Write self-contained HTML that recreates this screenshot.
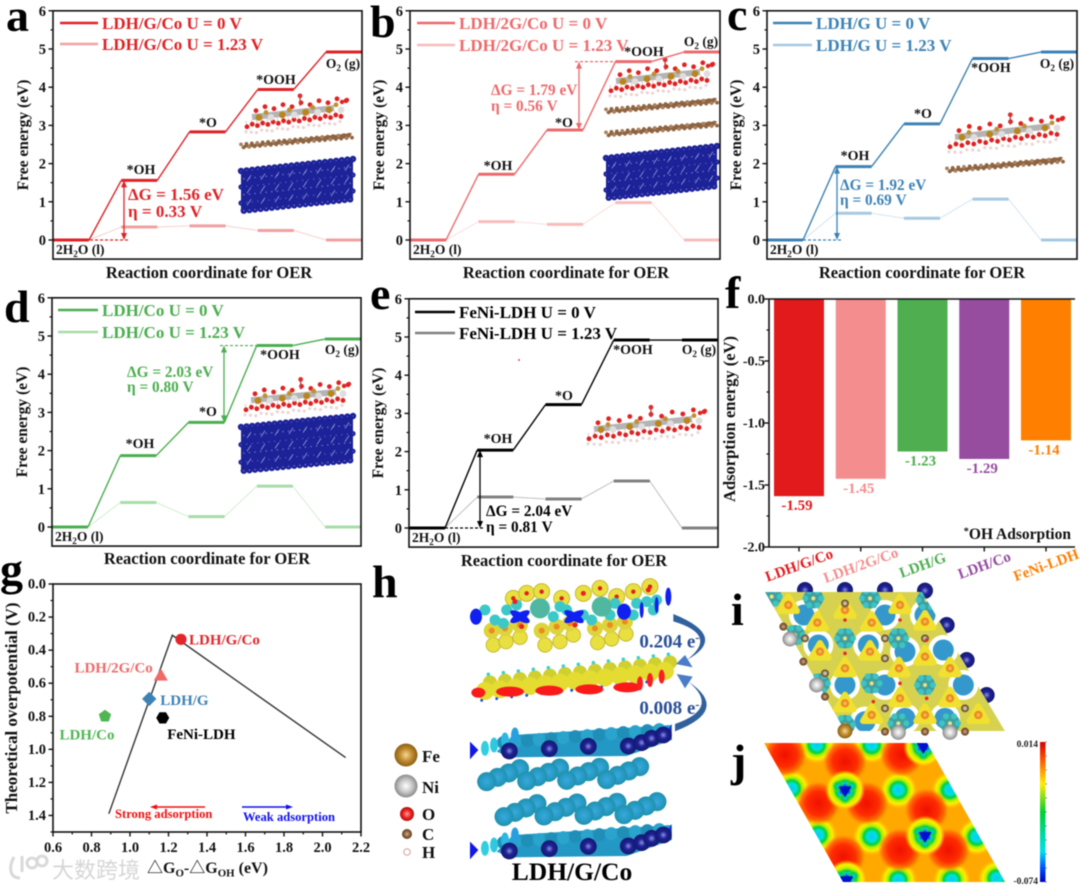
<!DOCTYPE html>
<html lang="en">
<head>
<meta charset="utf-8">
<title>OER free energy figure</title>
<style>
html,body{margin:0;padding:0;background:#fff;}
#figure{display:block;width:1080px;height:888px;font-family:"Liberation Serif","Noto Serif CJK SC",serif;font-weight:bold;filter:blur(.4px);}
</style>
</head>
<body>
<svg id="figure" xmlns="http://www.w3.org/2000/svg" width="1080" height="888" viewBox="0 0 1080 888">
<defs>
  <radialGradient id="feGrad" cx="50%" cy="50%" r="50%"><stop offset="0" stop-color="#f5d79a"/><stop offset=".55" stop-color="#c08a2c"/><stop offset="1" stop-color="#8a6018"/></radialGradient>
  <radialGradient id="niGrad" cx="50%" cy="50%" r="50%"><stop offset="0" stop-color="#ffffff"/><stop offset=".55" stop-color="#c8c8c8"/><stop offset="1" stop-color="#8a8a8a"/></radialGradient>
  <radialGradient id="oGrad" cx="50%" cy="50%" r="50%"><stop offset="0" stop-color="#ff9a9a"/><stop offset=".6" stop-color="#e82020"/><stop offset="1" stop-color="#b01010"/></radialGradient>
  <radialGradient id="cGrad" cx="50%" cy="50%" r="50%"><stop offset="0" stop-color="#d0b090"/><stop offset=".6" stop-color="#8a5f3c"/><stop offset="1" stop-color="#604020"/></radialGradient>
  <radialGradient id="coGrad" cx="50%" cy="50%" r="50%"><stop offset="0" stop-color="#8f8fe0"/><stop offset=".45" stop-color="#1d2296"/><stop offset="1" stop-color="#14186e"/></radialGradient>
  <radialGradient id="tealGrad" cx="50%" cy="50%" r="50%"><stop offset="0" stop-color="#3aa8dc"/><stop offset=".65" stop-color="#269ac4"/><stop offset="1" stop-color="#2090a8"/></radialGradient>
  <radialGradient id="redBlob" cx="50%" cy="50%" r="50%"><stop offset="0" stop-color="#f01000"/><stop offset=".55" stop-color="#ff2c00"/><stop offset=".8" stop-color="#ff5a00" stop-opacity=".8"/><stop offset="1" stop-color="#ff8000" stop-opacity="0"/></radialGradient>
  <radialGradient id="spotCyan" cx="50%" cy="50%" r="50%"><stop offset="0" stop-color="#08c8f8"/><stop offset=".24" stop-color="#00e0e0"/><stop offset=".42" stop-color="#00d040"/><stop offset=".56" stop-color="#b0f000"/><stop offset=".74" stop-color="#ffee00"/><stop offset="1" stop-color="#ffc000" stop-opacity="0"/></radialGradient>
  <radialGradient id="spotDark" cx="50%" cy="50%" r="50%"><stop offset="0" stop-color="#0018e0"/><stop offset=".22" stop-color="#0050ff"/><stop offset=".34" stop-color="#00d0e0"/><stop offset=".46" stop-color="#00d040"/><stop offset=".6" stop-color="#c0f000"/><stop offset=".8" stop-color="#ffee00"/><stop offset="1" stop-color="#ffc000" stop-opacity="0"/></radialGradient>
  <radialGradient id="lobeGrad" cx="50%" cy="50%" r="50%"><stop offset="0" stop-color="#00c8f0"/><stop offset=".5" stop-color="#00d050"/><stop offset="1" stop-color="#80e000" stop-opacity="0"/></radialGradient>
  <linearGradient id="colorbarGrad" x1="0" y1="0" x2="0" y2="1"><stop offset="0" stop-color="#d80000"/><stop offset=".12" stop-color="#ff5000"/><stop offset=".3" stop-color="#ffee00"/><stop offset=".5" stop-color="#00d030"/><stop offset=".78" stop-color="#00e0f0"/><stop offset=".9" stop-color="#0050ff"/><stop offset="1" stop-color="#0000c0"/></linearGradient>
  <clipPath id="clipI"><polygon points="765,592 922,592 1005,731 845,731"/></clipPath>
  <clipPath id="clipJ"><polygon points="764,743 927,743 1005,882 843,882"/></clipPath>
</defs>
<rect width="1080" height="888" fill="#ffffff"/>
</svg>
<script>
/* ---------- chart values ---------- */
const energyTicks = [0, 1, 2, 3, 4, 5, 6];
const stepNames = ['*OH', '*O', '*OOH'];

const aEnergyU0 = [0, 1.56, 2.83, 3.94, 4.92];
const aEnergyU123 = [0, 0.34, 0.37, 0.25, 0];
const bEnergyU0 = [0, 1.72, 2.88, 4.67, 4.92];
const bEnergyU123 = [0, 0.48, 0.41, 0.98, 0];
const cEnergyU0 = [0, 1.92, 3.04, 4.75, 4.92];
const cEnergyU123 = [0, 0.70, 0.57, 1.07, 0];
const dEnergyU0 = [0, 1.87, 2.74, 4.75, 4.92];
const dEnergyU123 = [0, 0.64, 0.27, 1.07, 0];
const eEnergyU0 = [0, 2.04, 3.23, 4.92, 4.92];
const eEnergyU123 = [0, 0.81, 0.76, 1.23, 0];

const barCategories = ['LDH/G/Co', 'LDH/2G/Co', 'LDH/G', 'LDH/Co', 'FeNi-LDH'];
const barValues = [-1.59, -1.45, -1.23, -1.29, -1.14];
const barTickLabels = ['0.0', '-0.5', '-1.0', '-1.5', '-2.0'];
const barTickValues = [0, -0.5, -1, -1.5, -2];

const volcanoX = [0.89, 1.22, 2.12];
const volcanoY = [1.39, 0.31, 1.05];
const scatterNames = ['LDH/G/Co', 'LDH/2G/Co', 'LDH/G', 'LDH/Co', 'FeNi-LDH'];
const scatterX = [1.265, 1.16, 1.10, 0.87, 1.17];
const scatterY = [0.335, 0.56, 0.695, 0.80, 0.81];
const volcanoXTicks = [0.6, 0.8, 1.0, 1.2, 1.4, 1.6, 1.8, 2.0, 2.2];
const volcanoYTicks = [0, 0.2, 0.4, 0.6, 0.8, 1.0, 1.2, 1.4];

/* ---------- helpers ---------- */
const NS = 'http://www.w3.org/2000/svg';
const root = document.getElementById('figure');

function add(parent, tag, attrs) {
  const node = document.createElementNS(NS, tag);
  for (const k in attrs) node.setAttribute(k, attrs[k]);
  parent.appendChild(node);
  return node;
}
function label(node, name) {
  
  
  return node;
}
function group(parent, name) {
  return label(add(parent, 'g', {}), name);
}
function txt(parent, x, y, str, size, fill, anchor, name, extra) {
  const t = add(parent, 'text', Object.assign({x: x, y: y, 'font-size': size, fill: fill, 'text-anchor': anchor || 'start'}, extra || {}));
  t.textContent = str;
  return label(t, name);
}
/* segments: [text, 'sub'|'sup'|''] */
function rich(parent, x, y, segs, size, fill, anchor, name) {
  const t = add(parent, 'text', {x: x, y: y, 'font-size': size, fill: fill, 'text-anchor': anchor || 'start'});
  let shift = 0;
  segs.forEach(function (s) {
    const target = s[1] === 'sub' ? size * 0.22 : s[1] === 'sup' ? -size * 0.3 : 0;
    const a = {dy: target - shift, 'font-size': s[1] ? size * 0.68 : size};
    const sp = add(t, 'tspan', a);
    sp.textContent = s[0];
    shift = target;
  });
  return label(t, name);
}
function line(parent, x1, y1, x2, y2, stroke, w, name, extra) {
  return label(add(parent, 'line', Object.assign({x1: x1, y1: y1, x2: x2, y2: y2, stroke: stroke, 'stroke-width': w}, extra || {})), name);
}
function poly(parent, pts, fill, name) {
  return label(add(parent, 'polygon', {points: pts.map(function (p) { return p.join(','); }).join(' '), fill: fill}), name);
}
function dot(parent, x, y, r, fill, extra) {
  return add(parent, 'circle', Object.assign({cx: x, cy: y, r: r, fill: fill}, extra || {}));
}
function vArrow(parent, x, y1, y2, color, name) {
  const g = group(parent, name);
  line(g, x, y1 + 4, x, y2 - 4, color, 1.3, name + '-shaft');
  poly(g, [[x, y1], [x - 3, y1 + 7], [x + 3, y1 + 7]], color, name + '-head-top');
  poly(g, [[x, y2], [x - 3, y2 - 7], [x + 3, y2 - 7]], color, name + '-head-bottom');
}

/* ---------- molecular-structure decoration ---------- */
function ldhLayer(parent, x0, yL, x1, yR, name) {
  const g = group(parent, name);
  const slope = (yR - yL) / (x1 - x0);
  const yAt = function (x) { return yL + (x - x0) * slope; };
  const n = 19;
  for (let i = 0; i < n; i++) {
    const x = x0 + 2 + (x1 - x0 - 6) * i / (n - 1), y = yAt(x);
    dot(g, x, y + 14 + (i % 3), 1.6, '#ecd4d4');
    line(g, x, y + 3, x + 1, y + 10, '#e8c8c8', 1, name + '-bond');
    dot(g, x + 1, y + 9 - (i % 2) * 2, 2.4, '#dd2222');
  }
  line(g, x0 + 8, yAt(x0 + 8), x1 - 10, yAt(x1 - 10), '#b4b4b4', 6, name + '-metal-band');
  for (let i = 0; i < 11; i++) {
    const x = x0 + 12 + (x1 - x0 - 10) * i / 10, y = yAt(x);
    dot(g, x, y - 6 - (i % 2) * 3, 2.4, '#e02222');
  }
  dot(g, x1 - 2, yAt(x1) - 5, 2.2, '#e02222');
  dot(g, x1 + 3, yAt(x1) - 7, 2.2, '#e02222');
  for (let i = 0; i < 4; i++) {
    const x = x0 + 14 + (x1 - x0 - 30) * i / 3, y = yAt(x);
    dot(g, x + 1, y + 1, 3.4, '#b8861c');
    dot(g, x + 13, y + 1, 3.4, '#dedede');
    dot(g, x + 8, y - 4, 2.4, '#c09030');
  }
  const xa = x0 + (x1 - x0) * 0.56, ya = yAt(xa);
  line(g, xa, ya - 6, xa, ya - 14, '#c04040', 1.3, name + '-adsorbate-bond');
  dot(g, xa, ya - 16, 2.4, '#d83030');
  return g;
}
function grapheneLayer(parent, x0, yL, x1, yR, name) {
  const g = group(parent, name);
  const n = 42, slope = (yR - yL) / (x1 - x0);
  poly(g, [[x0 + 3, yL - 1], [x1, yR - 3], [x1 - 3, yR + 2], [x0, yL + 2]], '#8a6240', name + '-sheet');
  for (let i = 0; i < n; i++) {
    const x = x0 + (x1 - x0) * i / (n - 1), y = yL + (x - x0) * slope;
    dot(g, x, y + (i % 2 ? 1.6 : -1.6), 1.9, i % 3 ? '#8f6440' : '#a88060');
  }
  return g;
}
function cobaltLayer(parent, x0, yL, x1, yR, h, name) {
  const g = group(parent, name);
  poly(g, [[x0, yL], [x1, yR], [x1, yR + h], [x0, yL + h]], '#1c2398', name + '-slab');
  const cols = 20, rows = 6;
  for (let r = 0; r < rows; r++) {
    for (let c = 0; c <= cols; c++) {
      const x = x0 + (x1 - x0) * (c + (r % 2) * 0.5) / cols;
      if (x > x1 + 1) continue;
      const y = yL + (yR - yL) * (x - x0) / (x1 - x0) + h * r / (rows - 1);
      dot(g, x, y, r === 0 || r === rows - 1 ? 3.2 : 2.6, '#1d2296');
      dot(g, x, y, .8, r % 2 ? '#6c70d8' : '#4a50c8');
    }
  }
  for (let k = 0; k < 24; k++) {
    const x = x0 + 8 + (x1 - x0 - 14) * (k % 8) / 7;
    const y = yL + (yR - yL) * (x - x0) / (x1 - x0) + h * (0.2 + 0.3 * Math.floor(k / 8));
    line(g, x - 2, y + 3, x + 2, y - 3, '#a8b0ea', .7, name + '-hatch');
  }
  return g;
}

/* ---------- free-energy panels ---------- */
function drawProfile(cfg, u0, u123) {
  const g = group(root, cfg.id + '-panel');
  const pxPerEv = 38.2;
  const yScale = function (v) { return cfg.zero - v * pxPerEv; };
  const levelW = 36;
  const stepX = (cfg.right - cfg.left - levelW) / 4;
  const xScale = function (i) { return cfg.left + i * stepX; };
  const top = yScale(6), bottom = yScale(-0.5);

  if (cfg.decor) cfg.decor(g);

  [[u123, cfg.light, 1, 'u-1-23'], [u0, cfg.dark, 1.4, 'u-0']].forEach(function (s) {
    const vals = s[0];
    const sg = group(g, cfg.id + '-series-' + s[3]);
    vals.forEach(function (v, i) {
      if (i < vals.length - 1) {
        const c = line(sg, xScale(i) + levelW, yScale(v), xScale(i + 1), yScale(vals[i + 1]), s[1], s[2], cfg.id + '-connector-' + s[3] + '-' + i);
        if (s[3] === 'u-1-23') c.setAttribute('stroke-dasharray', '1 1');
      }
    });
    vals.forEach(function (v, i) {
      line(sg, xScale(i), yScale(v), xScale(i) + levelW, yScale(v), s[1], 3, cfg.id + '-level-' + s[3] + '-' + i);
    });
  });

  label(add(g, 'rect', {x: cfg.left, y: top, width: cfg.right - cfg.left, height: bottom - top, fill: 'none', stroke: '#111', 'stroke-width': 1.6}), cfg.id + '-plot-frame');
  energyTicks.forEach(function (t) {
    line(g, cfg.left - 4.5, yScale(t), cfg.left, yScale(t), '#111', 1.4, cfg.id + '-y-tick-' + t);
    txt(g, cfg.left - 7, yScale(t) + 5, String(t), 14.5, '#111', 'end', cfg.id + '-y-tick-label-' + t);
    if (t < 6) line(g, cfg.left - 2.5, yScale(t + .5), cfg.left, yScale(t + .5), '#111', 1.2, cfg.id + '-y-minor-tick-' + t);
  });
  txt(g, cfg.yTitleX, cfg.yTitleY, 'Free energy (eV)', 15.5, '#111', 'middle', cfg.id + '-y-axis-title', {transform: 'rotate(-90 ' + cfg.yTitleX + ' ' + cfg.yTitleY + ')'});
  txt(g, cfg.xTitleX, cfg.xTitleY, 'Reaction coordinate for OER', 16.5, '#111', 'middle', cfg.id + '-x-axis-title');

  const lg = group(g, cfg.id + '-legend');
  line(lg, cfg.legLine[0], cfg.legY[0], cfg.legLine[1], cfg.legY[0], cfg.dark, 2.6, cfg.id + '-legend-line-u0');
  txt(lg, cfg.legLine[1] + 4, cfg.legY[0] + 6, cfg.name + ' U = 0 V', 17, cfg.dark, 'start', cfg.id + '-legend-label-u0');
  line(lg, cfg.legLine[0], cfg.legY[1], cfg.legLine[1], cfg.legY[1], cfg.light, 2.6, cfg.id + '-legend-line-u123');
  txt(lg, cfg.legLine[1] + 4, cfg.legY[1] + 6, cfg.name + ' U = 1.23 V', 17, cfg.dark, 'start', cfg.id + '-legend-label-u123');

  stepNames.forEach(function (n, i) {
    txt(g, cfg.stepPos[i][0], cfg.stepPos[i][1], n, 14, '#111', 'middle', cfg.id + '-step-label-' + n.replace('*', '').toLowerCase());
  });
  rich(g, cfg.stepPos[3][0], cfg.stepPos[3][1], [['O', ''], ['2', 'sub'], [' (g)', '']], 13.5, '#111', 'middle', cfg.id + '-step-label-o2');
  rich(g, cfg.left + 3, cfg.zero + 14, [['2H', ''], ['2', 'sub'], ['O (l)', '']], 13.5, '#111', 'start', cfg.id + '-step-label-h2o');

  const pot = cfg.potential;
  const yA = yScale(pot.from), yB = yScale(pot.to);
  vArrow(g, pot.x, yA, yB, cfg.dark, cfg.id + '-delta-g-arrow');
  line(g, pot.dash[0], pot.dashAt === 'top' ? yA : yB, pot.dash[1], pot.dashAt === 'top' ? yA : yB, cfg.dark, 1.2, cfg.id + '-delta-g-guide', {'stroke-dasharray': '3 2'});
  txt(g, pot.tx, pot.ty[0], 'ΔG = ' + pot.dg + ' eV', pot.size, cfg.dark, 'start', cfg.id + '-delta-g-value');
  txt(g, pot.tx, pot.ty[1], 'η = ' + pot.eta + ' V', pot.size, cfg.dark, 'start', cfg.id + '-eta-value');

  txt(g, cfg.letter[0], cfg.letter[1], cfg.id, 46, '#000', 'start', cfg.id + '-panel-letter');
}

drawProfile({
  id: 'a', name: 'LDH/G/Co', dark: '#df2226', light: '#f2a0a0', left: 53, right: 362, zero: 240,
  yTitleX: 28, yTitleY: 135, xTitleX: 209, xTitleY: 278, letter: [6, 31],
  legLine: [60, 98], legY: [23, 44],
  stepPos: [[141, 174], [208, 127], [276, 84], [343, 68]],
  potential: {x: 124, from: 1.56, to: 0, dash: [90, 128], dashAt: 'bottom', tx: 128, ty: [200, 217], dg: '1.56', eta: '0.33', size: 17},
  decor: function (g) {
    ldhLayer(g, 244, 118, 344, 107, 'a-ldh-structure');
    grapheneLayer(g, 241, 146, 352, 136, 'a-graphene-structure');
    cobaltLayer(g, 241, 171, 353, 159, 40, 'a-cobalt-structure');
  }
}, aEnergyU0, aEnergyU123);

drawProfile({
  id: 'b', name: 'LDH/2G/Co', dark: '#ec6a6c', light: '#f8bcbc', left: 410, right: 720, zero: 240,
  yTitleX: 384, yTitleY: 135, xTitleX: 566, xTitleY: 278, letter: [370, 37],
  legLine: [417, 455], legY: [23, 45],
  stepPos: [[498, 170], [564, 127], [644, 56], [701, 46]],
  potential: {x: 579, from: 4.67, to: 2.88, dash: [575, 616], dashAt: 'top', tx: 491, ty: [95, 111], dg: '1.79', eta: '0.56', size: 15.3},
  decor: function (g) {
    ldhLayer(g, 608, 82, 710, 71, 'b-ldh-structure');
    grapheneLayer(g, 606, 111, 717, 101, 'b-graphene-structure-upper');
    grapheneLayer(g, 606, 134, 717, 124, 'b-graphene-structure-lower');
    cobaltLayer(g, 606, 158, 717, 146, 40, 'b-cobalt-structure');
  }
}, bEnergyU0, bEnergyU123);

drawProfile({
  id: 'c', name: 'LDH/G', dark: '#3d82b5', light: '#a6cae2', left: 767, right: 1077, zero: 240,
  yTitleX: 741, yTitleY: 135, xTitleX: 922, xTitleY: 278, letter: [727, 30],
  legLine: [773, 812], legY: [23, 45],
  stepPos: [[855, 160], [923, 118], [991, 72], [1057, 68]],
  potential: {x: 837, from: 1.92, to: 0, dash: [803, 842], dashAt: 'bottom', tx: 840, ty: [190, 205], dg: '1.92', eta: '0.69', size: 15.3},
  decor: function (g) {
    ldhLayer(g, 947, 138, 1060, 125, 'c-ldh-structure');
    grapheneLayer(g, 947, 170, 1063, 160, 'c-graphene-structure');
  }
}, cEnergyU0, cEnergyU123);

drawProfile({
  id: 'd', name: 'LDH/Co', dark: '#4bae50', light: '#a8dca8', left: 52, right: 361, zero: 527,
  yTitleX: 27, yTitleY: 422, xTitleX: 207, xTitleY: 564, letter: [4, 322],
  legLine: [58, 98], legY: [310, 332],
  stepPos: [[140, 448], [208, 416], [280, 359], [342, 354]],
  potential: {x: 224, from: 4.75, to: 2.74, dash: [220, 258], dashAt: 'top', tx: 127, ty: [377, 392], dg: '2.03', eta: '0.80', size: 15.3},
  decor: function (g) {
    ldhLayer(g, 243, 401, 346, 391, 'd-ldh-structure');
    cobaltLayer(g, 241, 427, 353, 416, 44, 'd-cobalt-structure');
  }
}, dEnergyU0, dEnergyU123);

drawProfile({
  id: 'e', name: 'FeNi-LDH', dark: '#000000', light: '#808080', left: 409, right: 718, zero: 528,
  yTitleX: 383, yTitleY: 423, xTitleX: 564, xTitleY: 566, letter: [370, 309],
  legLine: [415, 455], legY: [312, 333],
  stepPos: [[498, 443], [564, 400], [633, 354], [699, 354]],
  potential: {x: 480, from: 2.04, to: 0, dash: [445, 483], dashAt: 'bottom', tx: 486, ty: [516, 532], dg: '2.04', eta: '0.81', size: 15.3},
  decor: function (g) {
    ldhLayer(g, 586, 430, 702, 418, 'e-ldh-structure');
    label(dot(g, 519, 360, .9, '#e01030'), 'e-stray-dot');
  }
}, eEnergyU0, eEnergyU123);

/* ---------- panel f : bars ---------- */
(function () {
  const g = group(root, 'f-panel');
  const left = 769, right = 1075, top = 299, bottom = 547;
  const barColors = ['#e31a1c', '#f48e8e', '#4fae4f', '#964da0', '#ff7f00'];
  const yF = function (v) { return top + (0 - v) / 2 * (bottom - top); };
  const xF = function (i) { return left + 30 + i * 61.75; };
  barValues.forEach(function (v, i) {
    const slug = barCategories[i].toLowerCase().replace(/\//g, '-');
    label(add(g, 'rect', {x: xF(i) - 25, y: yF(0), width: 50, height: yF(v) - yF(0), fill: barColors[i]}), 'bar-' + slug);
    txt(g, xF(i) - 2, yF(v) + 14, v.toFixed(2), 15, barColors[i], 'middle', 'bar-value-' + slug);
    line(g, xF(i), bottom, xF(i), bottom + 4.5, '#111', 1.4, 'f-x-tick-' + i);
    txt(g, xF(i), bottom + 23, barCategories[i], 15, barColors[i], 'middle', 'f-x-tick-label-' + i, {transform: 'rotate(-20 ' + xF(i) + ' ' + (bottom + 18) + ')'});
  });
  line(g, left, top, right, top, '#111', 1.6, 'f-top-axis');
  line(g, left, bottom, right, bottom, '#111', 1.6, 'f-x-axis');
  line(g, left, top, left, bottom, '#111', 1.6, 'f-y-axis');
  barTickValues.forEach(function (t, i) {
    line(g, left - 4.5, yF(t), left, yF(t), '#111', 1.4, 'f-y-tick-' + i);
    txt(g, left - 4, yF(t) + 4.5, barTickLabels[i], 14, '#111', 'end', 'f-y-tick-label-' + i);
    if (t > -2) line(g, left - 2.5, yF(t - .25), left, yF(t - .25), '#111', 1.2, 'f-y-minor-tick-' + i);
  });
  txt(g, 735, 419, 'Adsorption energy (eV)', 16.5, '#111', 'middle', 'f-y-axis-title', {transform: 'rotate(-90 735 419)'});
  rich(g, 1071, 539, [['*', 'sup'], ['OH Adsorption', '']], 15.5, '#111', 'end', 'f-adsorption-note');
  txt(g, 725, 308, 'f', 46, '#000', 'start', 'f-panel-letter');
})();

/* ---------- panel g : volcano ---------- */
(function () {
  const g = group(root, 'g-panel');
  const left = 53, right = 361, top = 584, bottom = 832;
  const xG = function (v) { return left + (v - 0.6) / 1.6 * (right - left); };
  const yG = function (v) { return top + v / 1.5 * (bottom - top); };
  label(add(g, 'rect', {x: left, y: top, width: right - left, height: bottom - top, fill: 'none', stroke: '#111', 'stroke-width': 1.6}), 'g-plot-frame');
  volcanoXTicks.forEach(function (t, i) {
    line(g, xG(t), bottom, xG(t), bottom + 4.5, '#111', 1.4, 'g-x-tick-' + i);
    txt(g, xG(t), bottom + 20, t.toFixed(1), 14.5, '#111', 'middle', 'g-x-tick-label-' + i);
    if (i < volcanoXTicks.length - 1) line(g, xG(t + .1), bottom, xG(t + .1), bottom + 2.5, '#111', 1.2, 'g-x-minor-tick-' + i);
  });
  volcanoYTicks.forEach(function (t, i) {
    line(g, left - 4.5, yG(t), left, yG(t), '#111', 1.4, 'g-y-tick-' + i);
    txt(g, left - 7, yG(t) + 4.5, t.toFixed(1), 14.5, '#111', 'end', 'g-y-tick-label-' + i);
    line(g, left - 2.5, yG(t + .1), left, yG(t + .1), '#111', 1.2, 'g-y-minor-tick-' + i);
  });
  label(add(g, 'polyline', {points: volcanoX.map(function (x, i) { return xG(x) + ',' + yG(volcanoY[i]); }).join(' '), fill: 'none', stroke: '#333', 'stroke-width': 1.4}), 'volcano-line');

  const colors = ['#e3262b', '#ef6a6a', '#3d82b5', '#4fb653', '#000000'];
  const labelDx = [8, -8, 11, -18, 4.5];
  const labelDy = [5, -4, 6, 23, 21];
  const labelAnchor = ['start', 'end', 'start', 'middle', 'start'];
  const shapeSides = [0, 3, 4, 5, 6];
  const shapeR = [5.6, 8.2, 7.2, 6.5, 6.5];
  const shapeRot = [0, -90, -90, -90, 0];
  scatterNames.forEach(function (n, i) {
    const cx = xG(scatterX[i]), cy = yG(scatterY[i]);
    const slug = n.toLowerCase().replace(/\//g, '-');
    if (shapeSides[i] === 0) {
      label(dot(g, cx, cy, shapeR[i], colors[i]), 'point-' + slug);
    } else {
      const pts = [];
      for (let k = 0; k < shapeSides[i]; k++) {
        const a = (shapeRot[i] + k * 360 / shapeSides[i]) * Math.PI / 180;
        pts.push([cx + shapeR[i] * Math.cos(a), cy + shapeR[i] * Math.sin(a)]);
      }
      poly(g, pts, colors[i], 'point-' + slug);
    }
    txt(g, cx + labelDx[i], cy + labelDy[i], n, 15, colors[i], labelAnchor[i], 'point-label-' + slug);
  });

  const ag = group(g, 'adsorption-arrows');
  line(ag, 205, 807, 154, 807, '#ee1111', 1.6, 'strong-adsorption-arrow');
  poly(ag, [[150, 807], [157, 804.5], [157, 809.5]], '#ee1111', 'strong-adsorption-arrowhead');
  txt(ag, 115, 818, 'Strong adsorption', 12.6, '#ee1111', 'start', 'strong-adsorption-label');
  line(ag, 242, 807, 289, 807, '#1111ee', 1.6, 'weak-adsorption-arrow');
  poly(ag, [[293, 807], [286, 804.5], [286, 809.5]], '#1111ee', 'weak-adsorption-arrowhead');
  txt(ag, 243, 821, 'Weak adsorption', 12.6, '#1111ee', 'start', 'weak-adsorption-label');

  txt(g, 17, 708, 'Theoretical overpotential (V)', 17, '#111', 'middle', 'g-y-axis-title', {transform: 'rotate(-90 17 708)'});
  rich(g, 147, 873, [['△G', ''], ['O', 'sub'], ['-△G', ''], ['OH', 'sub'], [' (eV)', '']], 16, '#111', 'start', 'g-x-axis-title');

  const wm = group(root, 'watermark');
  label(add(wm, 'path', {d: 'M14 857 C8 868 10 878 20 878 M22 856 L22 872 M32 858 a5 5 0 1 0 .1 0 M42 856 a5 5 0 1 0 .1 0', fill: 'none', stroke: '#d9d9d9', 'stroke-width': 3}), 'watermark-logo');
  txt(wm, 52, 878, '大数跨境', 22, '#d6d6d6', 'start', 'watermark-text', {'font-family': '"Noto Sans CJK SC",sans-serif', 'font-weight': '400'});

  txt(g, 0, 585, 'g', 46, '#000', 'start', 'g-panel-letter');
})();

/* ---------- panel h : charge density ---------- */
(function () {
  const g = group(root, 'h-panel');
  const hx = function (v) { return 370 + v / 3; };
  const hy = function (v) { return 560 + v / 3; };

  const top = group(g, 'h-ldh-density');
  [[430,115],[470,100],[515,95],[575,115],[640,100],[690,85],[740,110],[790,95],[840,80]].forEach(function (p) {
    dot(top, hx(p[0]), hy(p[1]), 8, '#e8e040', {stroke: '#c8b830', 'stroke-width': 1});
    dot(top, hx(p[0]), hy(p[1]), 2.2, '#e02020');
  });
  [[370,255],[408,245],[450,232],[525,255],[570,245],[610,225],[683,248],[725,237],[768,222]].forEach(function (p) {
    dot(top, hx(p[0]), hy(p[1]), 7.2, '#e8e040', {stroke: '#c0b020', 'stroke-width': .8});
  });
  [[365,212],[405,205],[450,195],[515,212],[560,200],[600,190],[675,205],[720,195],[765,185]].forEach(function (p) {
    dot(top, hx(p[0]), hy(p[1]), 8, '#ddd43c');
    dot(top, hx(p[0]), hy(p[1]), 3, '#ee8a20');
  });
  [[345,150],[375,180],[410,150],[400,190],[440,135],[550,170],[570,140],[590,150],[640,165],[665,180],[720,165],[735,130],[790,165],[800,130],[830,125],[860,120],[850,150]].forEach(function (p) {
    dot(top, hx(p[0]), hy(p[1]), 5.5, '#3cc8c8');
  });
  [[510,145],[695,140]].forEach(function (p, i) {
    label(dot(top, hx(p[0]), hy(p[1]), 10, '#50b8a0'), 'h-teal-density-' + i);
  });
  [[318,170,6,8,0],[450,170,11,4,30],[450,170,11,4,-30],[612,170,11,4,30],[612,170,11,4,-30],[762,155,7,8,0],[815,150,2,8,0],[860,135,2,8,0],[895,110,3,9,0]].forEach(function (p, i) {
    const cx = hx(p[0]), cy = hy(p[1]);
    label(add(top, 'ellipse', {cx: cx, cy: cy, rx: p[2], ry: p[3], fill: '#1020f0', transform: 'rotate(' + p[4] + ' ' + cx + ' ' + cy + ')'}), 'h-blue-depletion-' + i);
  });
  [[455,200],[615,195],[435,125],[640,100],[835,90]].forEach(function (p) { dot(top, hx(p[0]), hy(p[1]), 2.5, '#ee2020'); });

  const gr = group(g, 'h-graphene-density');
  for (let i = 0; i < 13; i++) {
    const x = 345 + i * 45, y = 395 - i * 5;
    dot(gr, hx(x + 15), hy(y - 28), 7, '#cfd030');
    dot(gr, hx(x), hy(y - 2), 9, '#e4dc30');
    dot(gr, hx(x + 10), hy(y - 52), 1.8, '#40d0d0');
    dot(gr, hx(x - 10), hy(y + 26), 1.4, '#1848e0');
  }
  [[325,398],[420,395],[538,392],[658,388],[772,382]].forEach(function (p, i) {
    label(add(gr, 'ellipse', {cx: hx(p[0]), cy: hy(p[1]), rx: i === 0 ? 7 : 14, ry: 5, fill: '#fa1a1a'}), 'h-red-accumulation-' + i);
  });
  [[810,370],[840,360],[875,350]].forEach(function (p, i) {
    label(add(gr, 'ellipse', {cx: hx(p[0]), cy: hy(p[1]), rx: 3, ry: 7, fill: '#fa2020'}), 'h-red-accumulation-right-' + i);
  });

  function coLayer(yBase, name) {
    const lg = group(g, name);
    label(add(lg, 'polygon', {points: [[380,yBase+5],[430,yBase-45],[905,yBase-75],[905,yBase-30],[770,yBase+18],[420,yBase+22]].map(function (p) { return hx(p[0]) + ',' + hy(p[1]); }).join(' '), fill: '#2398c4'}), name + '-band');
    for (let i = 0; i < 14; i++) dot(lg, hx(400 + i * 36), hy(yBase - 22 - i * 3), 6.5, i % 2 ? '#2aa4cc' : '#1f8fb8');
    poly(lg, [[hx(300), hy(yBase - 25)], [hx(325), hy(yBase)], [hx(300), hy(yBase + 28)]], '#1018e8', name + '-left-wedge');
    [[345,-5,'#30d0e0'],[372,-15,'#30c8e0'],[405,-30,'#2cb8e0'],[435,-45,'#28a0e0']].forEach(function (p, i) {
      label(add(lg, 'ellipse', {cx: hx(p[0]), cy: hy(yBase + p[1]), rx: 4, ry: 7.5, fill: p[2]}), name + '-crescent-' + i);
    });
    poly(lg, [[hx(905), hy(yBase - 78)], [hx(905), hy(yBase - 30)], [hx(888), hy(yBase - 50)]], '#1030e0', name + '-right-wedge');
    [[418,3],[538,-4],[655,-11],[775,-12],[815,-22],[845,-35],[880,-45]].forEach(function (p) {
      dot(lg, hx(p[0]), hy(yBase + p[1]), 8.4, 'url(#coGrad)');
    });
  }
  coLayer(570, 'h-cobalt-density-upper');
  coLayer(870, 'h-cobalt-density-lower');
  function midLayer(x0, y0, name) {
    const lg = group(g, name);
    for (let k = 0; k < 4; k++) {
      for (let j = 3; j >= 0; j--) {
        dot(lg, hx(x0 + k * 120 + j * 33), hy(y0 - k * 2 - j * 13), 9.5, 'url(#tealGrad)');
      }
    }
  }
  midLayer(350, 665, 'h-cobalt-density-mid-upper');
  midLayer(402, 770, 'h-cobalt-density-mid-lower');

  label(add(g, 'path', {d: 'M' + hx(910) + ' ' + hy(162) + ' Q' + hx(1078) + ' ' + hy(230) + ' ' + hx(950) + ' ' + hy(300) + ' Q' + hx(1048) + ' ' + hy(225) + ' ' + hx(910) + ' ' + hy(184) + ' Z', fill: '#31609e'}), 'h-transfer-arc-upper');
  poly(g, [[hx(918), hy(312)], [hx(945), hy(285)], [hx(968), hy(322)]], '#4a7cc8', 'h-transfer-arrowhead-upper');
  label(add(g, 'path', {d: 'M' + hx(915) + ' ' + hy(514) + ' Q' + hx(1082) + ' ' + hy(450) + ' ' + hx(955) + ' ' + hy(365) + ' Q' + hx(1052) + ' ' + hy(445) + ' ' + hx(915) + ' ' + hy(492) + ' Z', fill: '#31609e'}), 'h-transfer-arc-lower');
  poly(g, [[hx(920), hy(342)], [hx(968), hy(350)], [hx(945), hy(385)]], '#4a7cc8', 'h-transfer-arrowhead-lower');
  rich(g, hx(808), hy(262), [['0.204 e', ''], ['-', 'sup']], 19, '#2a5096', 'start', 'h-transfer-upper-value');
  rich(g, hx(808), hy(462), [['0.008 e', ''], ['-', 'sup']], 19, '#2a5096', 'start', 'h-transfer-lower-value');

  const lg = group(g, 'h-element-legend');
  const legendAtoms = [['Fe', 406, 755, 11.5, 'url(#feGrad)', 422, 762, 17], ['Ni', 406, 786, 11.5, 'url(#niGrad)', 422, 793, 17], ['O', 407, 814, 7, 'url(#oGrad)', 422, 820, 17], ['C', 407, 834, 5, 'url(#cGrad)', 422, 840, 17]];
  legendAtoms.forEach(function (a) {
    label(dot(lg, a[1], a[2], a[3], a[4]), 'legend-atom-' + a[0].toLowerCase());
    txt(lg, a[5], a[6], a[0], a[7], '#111', 'start', 'legend-label-' + a[0].toLowerCase());
  });
  label(dot(lg, 407, 852, 3.2, '#ffffff', {stroke: '#d8a8a8', 'stroke-width': 1.2}), 'legend-atom-h');
  txt(lg, 422, 858, 'H', 17, '#111', 'start', 'legend-label-h');

  txt(g, 572, 880, 'LDH/G/Co', 25.5, '#000', 'middle', 'h-structure-caption');
  txt(g, 372, 597, 'h', 46, '#000', 'start', 'h-panel-letter');
})();

/* ---------- panel i : top view ---------- */
(function () {
  const g = group(root, 'i-panel');
  const ix = function (v) { return 730 + v / 3; };
  const iy = function (v) { return 570 + v / 3; };
  const darkAtoms = [[225,60],[345,60],[465,60],[585,62],[650,165],[710,270],[770,375]];
  const db = group(g, 'i-cobalt-atoms');
  darkAtoms.forEach(function (p) { dot(db, ix(p[0]), iy(p[1]), 8, 'url(#coGrad)'); });

  const c = label(add(g, 'g', {'clip-path': 'url(#clipI)'}), 'i-density-map');
  label(add(c, 'polygon', {points: '765,592 922,592 1005,731 845,731', fill: '#d6d250'}), 'i-cell');
  [[222,135],[465,135],[585,135],[345,345],[640,240],[525,245],[465,345],[700,345],[645,445],[525,445],[405,455],[265,225],[415,225]].forEach(function (p) {
    dot(c, ix(p[0]), iy(p[1]), 15, '#ffffff');
    dot(c, ix(p[0]), iy(p[1]), 10.5, '#3598cc');
  });
  [[262,158],[425,158],[585,155],[345,120],[345,295],[507,295],[660,295],[270,245],[420,245],[585,260],[345,400],[510,385],[660,385],[425,435],[585,435],[745,435],[175,105],[510,105]].forEach(function (p) {
    const tri = poly(c, [[ix(p[0]), iy(p[1] - 26)], [ix(p[0] + 26), iy(p[1] + 18)], [ix(p[0] - 26), iy(p[1] + 18)]], '#f0e030', 'i-yellow-lobe');
    tri.setAttribute('stroke', '#f0e030');
    tri.setAttribute('stroke-width', '6');
    tri.setAttribute('stroke-linejoin', 'round');
    dot(c, ix(p[0]), iy(p[1]), 4.2, '#ee8a20');
    dot(c, ix(p[0]), iy(p[1]), 1.8, '#f0b850');
  });
  [[345,205],[505,205],[585,345],[425,340],[195,195],[270,340],[660,460],[505,460],[345,465],[125,80],[250,85],[420,85],[590,90]].forEach(function (p) {
    dot(c, ix(p[0]), iy(p[1]), 10, '#40a0a0');
    for (let k = 0; k < 6; k++) {
      dot(c, ix(p[0]) + 8 * Math.cos(k * Math.PI / 3), iy(p[1]) + 8 * Math.sin(k * Math.PI / 3), 3, '#3cc4c4');
    }
    dot(c, ix(p[0]), iy(p[1]), 2, '#f0e080');
  });
  [[225,205],[465,205],[345,100],[465,265],[585,205],[705,415],[465,415],[285,310]].forEach(function (p) {
    dot(c, ix(p[0]), iy(p[1]), 4, '#7a5c38');
    dot(c, ix(p[0]), iy(p[1]), 2, '#c0c0a0');
  });
  [[345,150],[510,150],[345,250],[510,340],[590,210],[430,395],[590,385]].forEach(function (p) { dot(c, ix(p[0]), iy(p[1]), 1.8, '#e03020'); });

  const big = group(g, 'i-metal-atoms');
  [[180,207,'url(#niGrad)'],[260,345,'url(#niGrad)'],[505,487,'url(#niGrad)'],[660,487,'url(#niGrad)'],[345,483,'url(#feGrad)']].forEach(function (p) { dot(big, ix(p[0]), iy(p[1]), 7.5, p[2]); });
  [[160,170],[220,275],[285,380],[465,485],[585,485],[705,485]].forEach(function (p) { dot(big, ix(p[0]), iy(p[1]), 4, 'url(#cGrad)'); });

  txt(g, 731, 625, 'i', 46, '#000', 'start', 'i-panel-letter');
})();

/* ---------- panel j : potential map ---------- */
(function () {
  const g = group(root, 'j-panel');
  const jx = function (v) { return 730 + v / 3; };
  const jy = function (v) { return 570 + v / 3; };
  const c = label(add(g, 'g', {'clip-path': 'url(#clipJ)'}), 'j-contour-map');
  label(add(c, 'polygon', {points: '764,743 927,743 1005,882 843,882', fill: '#ffa800'}), 'j-cell');
  [[505,660],[425,800],[185,655],[660,660],[265,795],[740,800],[260,525],[425,525],[505,930],[665,930],[800,925]].forEach(function (p) {
    dot(c, jx(p[0]), jy(p[1]), 19, 'url(#spotCyan)');
  });
  [[165,555],[345,575],[515,555],[265,700],[410,700],[590,720],[340,860],[510,840],[655,840]].forEach(function (p) {
    dot(c, jx(p[0]), jy(p[1]), 22, 'url(#redBlob)');
  });
  [[345,660],[585,797],[580,530],[350,930]].forEach(function (p) {
    const cx = jx(p[0]), cy = jy(p[1]);
    dot(c, cx, cy, 20, 'url(#spotDark)');
    [150, 30, 270].forEach(function (deg) {
      const a = deg * Math.PI / 180;
      dot(c, cx + 8 * Math.cos(a), cy - 8 * Math.sin(a), 6.5, 'url(#lobeGrad)');
    });
    const tri = poly(c, [[cx - 5.5, cy - 3], [cx + 5.5, cy - 3], [cx, cy + 6]], '#0010d0', 'j-minimum-core');
    tri.setAttribute('stroke', '#0010d0');
    tri.setAttribute('stroke-width', '1.5');
    tri.setAttribute('stroke-linejoin', 'round');
  });

  label(add(g, 'rect', {x: 1040, y: 742, width: 5.5, height: 140, fill: 'url(#colorbarGrad)'}), 'j-colorbar');
  for (let k = 0; k <= 10; k++) {
    line(g, 1045.5, 742 + k * 14, 1047, 742 + k * 14, '#555', .7, 'j-colorbar-tick-' + k);
  }
  txt(g, 1038, 747, '0.014', 9.5, '#222', 'end', 'j-colorbar-max-label');
  txt(g, 1038, 884, '-0.074', 9.5, '#222', 'end', 'j-colorbar-min-label');
  txt(g, 731, 776, 'j', 46, '#000', 'start', 'j-panel-letter');
})();
</script>
</body>
</html>
